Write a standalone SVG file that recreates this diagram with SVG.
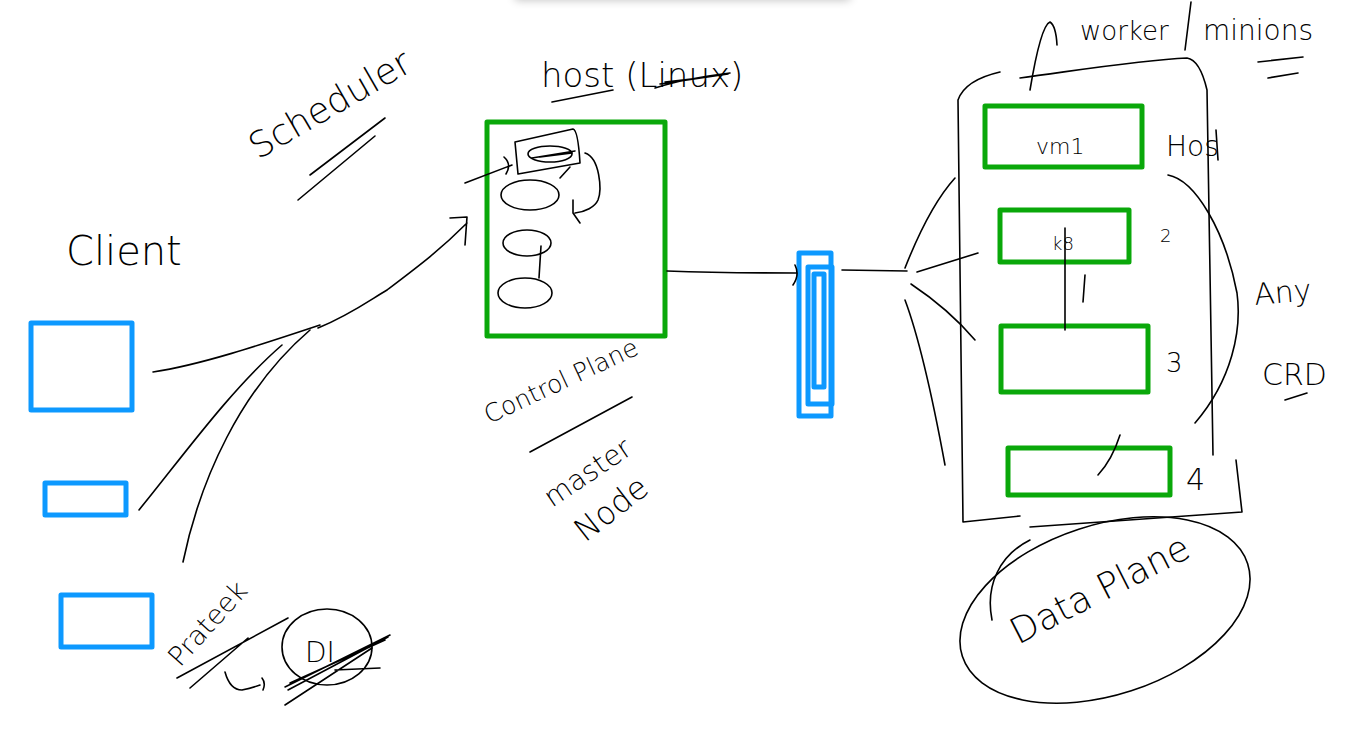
<svg xmlns="http://www.w3.org/2000/svg" width="1345" height="731" viewBox="0 0 1345 731">
<defs>
<style>
.ink{fill:none;stroke:#000;stroke-width:1.6;stroke-linecap:round;stroke-linejoin:round}
.blue{fill:none;stroke:#0d99ff;stroke-width:5;stroke-linejoin:round}
.green{fill:none;stroke:#0aa80a;stroke-width:5;stroke-linejoin:round}
.t{font-family:"DejaVu Sans","Liberation Sans",sans-serif;font-weight:200;fill:#000}
</style>
<filter id="sh" x="-10%" y="-200%" width="120%" height="500%"><feGaussianBlur stdDeviation="5"/></filter>
</defs>
<rect width="1345" height="731" fill="#fff"/>
<rect x="515" y="-30" width="335" height="30" fill="#000" opacity="0.25" filter="url(#sh)"/>
<rect x="505" y="-40" width="355" height="40" fill="#fff"/>

<g id="client">
<text class="t" x="66" y="265" font-size="40">Client</text>
<rect id="client-box1" class="blue" x="31" y="323" width="101" height="87"/>
<rect id="client-box2" class="blue" x="45" y="483" width="81" height="32"/>
<rect id="client-box3" class="blue" x="61" y="595" width="91" height="52"/>
</g>

<g id="scheduler">
<text class="t" x="258" y="160" font-size="36" transform="rotate(-30 258 160)">Scheduler</text>
<path class="ink" d="M310,175 L385,118 M298,200 L375,136"/>
</g>

<g id="control-plane">
<text class="t" x="541" y="87" font-size="34">host (Linux)</text>
<path class="ink" d="M552,102 L613,90 M655,88 C680,80 705,76 730,73 M660,84 L728,74 M665,82 L700,78"/>
<rect class="green" x="487" y="122" width="178" height="214"/>
<path class="ink" d="M515,142 L573,129 Q578,130 580,163 L518,174 Z"/>
<ellipse class="ink" cx="550" cy="154" rx="22" ry="8"/>
<path class="ink" d="M532,158 L575,151 M540,157 L572,153"/>
<ellipse class="ink" cx="530" cy="195" rx="29" ry="15"/>
<ellipse class="ink" cx="527" cy="243" rx="24" ry="13"/>
<path class="ink" d="M541,246 L539,278"/>
<ellipse class="ink" cx="525" cy="293" rx="27" ry="15"/>
<path class="ink" d="M585,153 C600,158 602,190 598,200 C595,207 585,212 575,213 M573,200 L573,213 L580,223 M560,178 L570,167"/>
<path class="ink" d="M465,183 L512,165 M504,157 Q512,164 506,174"/>
<text class="t" x="489" y="424" font-size="25" transform="rotate(-25 489 424)">Control Plane</text>
<path class="ink" d="M530,452 L632,397"/>
<text class="t" x="552" y="508" font-size="28" transform="rotate(-34 552 508)">master</text>
<text class="t" x="585" y="543" font-size="32" transform="rotate(-38 585 543)">Node</text>
</g>

<g id="api">
<rect class="blue" x="799" y="253" width="32" height="163"/>
<rect class="blue" x="808" y="267" width="24" height="137"/>
<rect class="blue" x="814" y="274" width="10" height="113"/>
</g>

<g id="data-plane">
<path class="ink" d="M1030,90 C1035,60 1042,25 1050,22 Q1056,26 1057,45"/>
<text class="t" x="1080" y="40" font-size="26">worker</text>
<path class="ink" d="M1185,50 L1191,2"/>
<text class="t" x="1203" y="40" font-size="28">minions</text>
<path class="ink" d="M1258,62 L1303,57 M1268,78 L1298,73"/>
<path class="ink" d="M1000,72 Q965,80 958,100 L963,522 L1020,516 M1030,527 L1242,512 L1236,460 M1020,78 C1080,70 1140,60 1187,58 Q1200,60 1207,90 L1213,455"/>
<rect class="green" x="985" y="106" width="157" height="61"/>
<text class="t" x="1036" y="154" font-size="22">vm1</text>
<rect class="green" x="1000" y="210" width="129" height="52"/>
<text class="t" x="1052" y="250" font-size="18">k8</text>
<rect class="green" x="1001" y="326" width="147" height="66"/>
<rect class="green" x="1008" y="448" width="162" height="47"/>
<path class="ink" d="M1065,228 L1065,330 M1085,275 L1083,302 M1098,475 Q1112,460 1120,435"/>
<text class="t" x="1166" y="156" font-size="28">Hos</text>
<path class="ink" d="M1216,130 L1218,160"/>
<text class="t" x="1160" y="242" font-size="18">2</text>
<text class="t" x="1166" y="372" font-size="26">3</text>
<text class="t" x="1186" y="490" font-size="30">4</text>
<path class="ink" d="M1168,175 C1195,180 1225,230 1237,293 C1242,330 1232,380 1195,423"/>
<text class="t" x="1255" y="305" font-size="30" transform="rotate(-5 1255 305)">Any</text>
<text class="t" x="1262" y="385" font-size="30">CRD</text>
<path class="ink" d="M1285,400 L1307,393"/>
<ellipse class="ink" cx="1105" cy="610" rx="150" ry="85" transform="rotate(-18 1105 610)"/>
<path class="ink" d="M1030,540 C1000,555 985,585 992,620"/>
<text class="t" x="1018" y="645" font-size="36" transform="rotate(-27 1018 645)">Data Plane</text>
</g>

<g id="note">
<text class="t" x="180" y="668" font-size="27" transform="rotate(-48 180 668)">Prateek</text>
<path class="ink" d="M177,678 L288,618 M190,688 L248,638 M225,672 Q230,690 242,690 Q252,688 260,685 M262,678 Q266,683 263,690"/>
<ellipse class="ink" cx="327" cy="647" rx="45" ry="38"/>
<text class="t" x="305" y="662" font-size="28">DI</text>
<path class="ink" d="M285,687 L390,635 M290,683 L385,640 M288,690 L388,637 M285,705 L372,648 M335,670 L380,668"/>
</g>

<g id="connectors">
<path class="ink" d="M153,372 C200,365 260,345 320,325"/>
<path class="ink" d="M139,510 C180,460 230,390 282,345"/>
<path class="ink" d="M183,562 C200,480 240,390 310,330"/>
<path class="ink" d="M318,328 C350,315 370,300 387,290 C420,265 440,250 467,223 M450,218 L467,217 L465,245"/>
<path class="ink" d="M667,271 C720,273 760,273 796,273 M795,265 Q800,275 793,285"/>
<path class="ink" d="M842,270 L907,271"/>
<path class="ink" d="M905,268 C920,230 935,200 955,178"/>
<path class="ink" d="M917,272 L978,253"/>
<path class="ink" d="M911,284 C935,300 958,320 975,340"/>
<path class="ink" d="M905,300 C920,340 933,400 945,465"/>
</g>
</svg>
